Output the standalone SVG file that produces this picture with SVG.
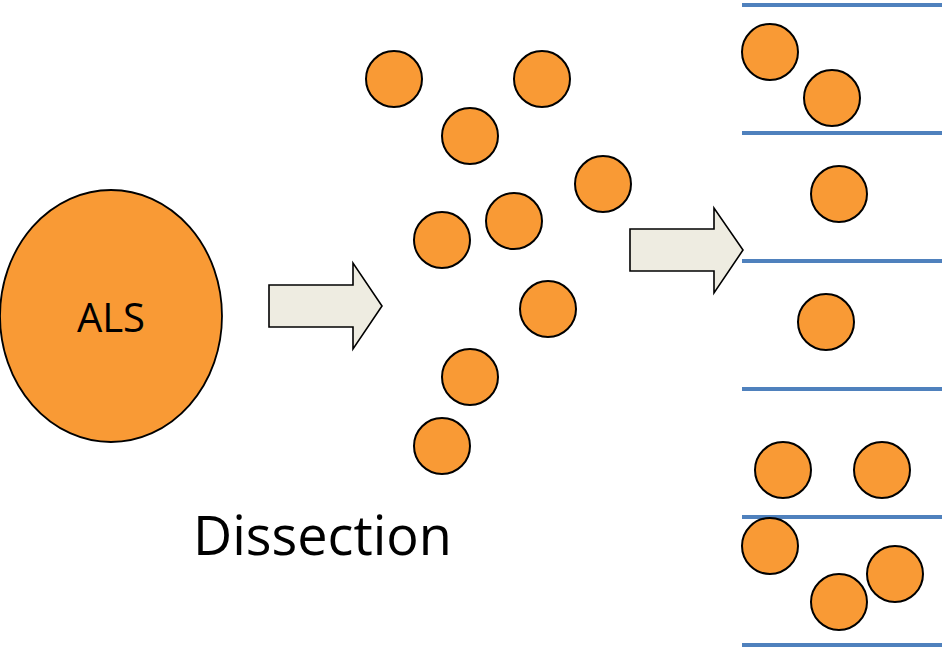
<svg xmlns="http://www.w3.org/2000/svg" width="942" height="652" viewBox="0 0 942 652">
  <style>
    .cell { fill: #F99A35; stroke: #000; stroke-width: 2; }
    .big { fill: #F99A35; stroke: #000; stroke-width: 1.8; }
    .arrow { fill: #EEECE1; stroke: #000; stroke-width: 1.6; stroke-linejoin: miter; }
    .lbl { font-family: "Open Sans", "Noto Sans", sans-serif; fill: #000; }
    .rule { stroke: #4F81BD; stroke-width: 4; }
    .rule-shadow { stroke: #9a9a9a; stroke-width: 4; opacity: 0.55; filter: url(#soft); }
  </style>
  <defs>
    <filter id="soft" x="-5%" y="-200%" width="110%" height="500%">
      <feGaussianBlur stdDeviation="1.6"/>
    </filter>
    <circle id="c" r="28"/>
  </defs>
  <rect width="942" height="652" fill="#fff"/>

  <!-- tissue -->
  <g id="als">
    <ellipse class="big" cx="111" cy="316" rx="111" ry="126"/>
    <text class="lbl" x="111" y="332" font-size="40" text-anchor="middle">ALS</text>
  </g>

  <g id="connectors">
    <polygon class="arrow" points="269,285 353,285 353,263 382,306 353,349 353,327 269,327"/>
    <polygon class="arrow" points="630,229 714,229 714,208 743,250 714,293 714,271 630,271"/>
  </g>

  <!-- dissociated cells -->
  <g id="cells">
    <use href="#c" class="cell" x="394" y="79"/>
    <use href="#c" class="cell" x="542" y="79"/>
    <use href="#c" class="cell" x="470" y="136"/>
    <use href="#c" class="cell" x="603" y="184"/>
    <use href="#c" class="cell" x="514" y="221"/>
    <use href="#c" class="cell" x="442" y="240"/>
    <use href="#c" class="cell" x="548" y="309"/>
    <use href="#c" class="cell" x="470" y="377"/>
    <use href="#c" class="cell" x="442" y="446"/>
  </g>

  <text id="dissection" class="lbl" x="193" y="555" font-size="54">Dissection</text>

  <!-- sorted wells -->
  <g id="wells">
    <line class="rule-shadow" x1="742" y1="9" x2="942" y2="9"/>
    <line class="rule-shadow" x1="742" y1="137" x2="942" y2="137"/>
    <line class="rule-shadow" x1="742" y1="266" x2="942" y2="266"/>
    <line class="rule-shadow" x1="742" y1="394" x2="942" y2="394"/>
    <line class="rule-shadow" x1="742" y1="522" x2="942" y2="522"/>
    <line class="rule-shadow" x1="742" y1="650" x2="942" y2="650"/>
    <line class="rule" x1="742" y1="5" x2="942" y2="5"/>
    <line class="rule" x1="742" y1="133" x2="942" y2="133"/>
    <line class="rule" x1="742" y1="261" x2="942" y2="261"/>
    <line class="rule" x1="742" y1="389" x2="942" y2="389"/>
    <line class="rule" x1="742" y1="517" x2="942" y2="517"/>
    <line class="rule" x1="742" y1="645" x2="942" y2="645"/>
  </g>

  <g id="sorted">
    <use href="#c" class="cell" x="770" y="52"/>
    <use href="#c" class="cell" x="832" y="98"/>
    <use href="#c" class="cell" x="839" y="194"/>
    <use href="#c" class="cell" x="826" y="322"/>
    <use href="#c" class="cell" x="783" y="470"/>
    <use href="#c" class="cell" x="882" y="470"/>
    <use href="#c" class="cell" x="770" y="546"/>
    <use href="#c" class="cell" x="839" y="602"/>
    <use href="#c" class="cell" x="895" y="574"/>
  </g>
</svg>
